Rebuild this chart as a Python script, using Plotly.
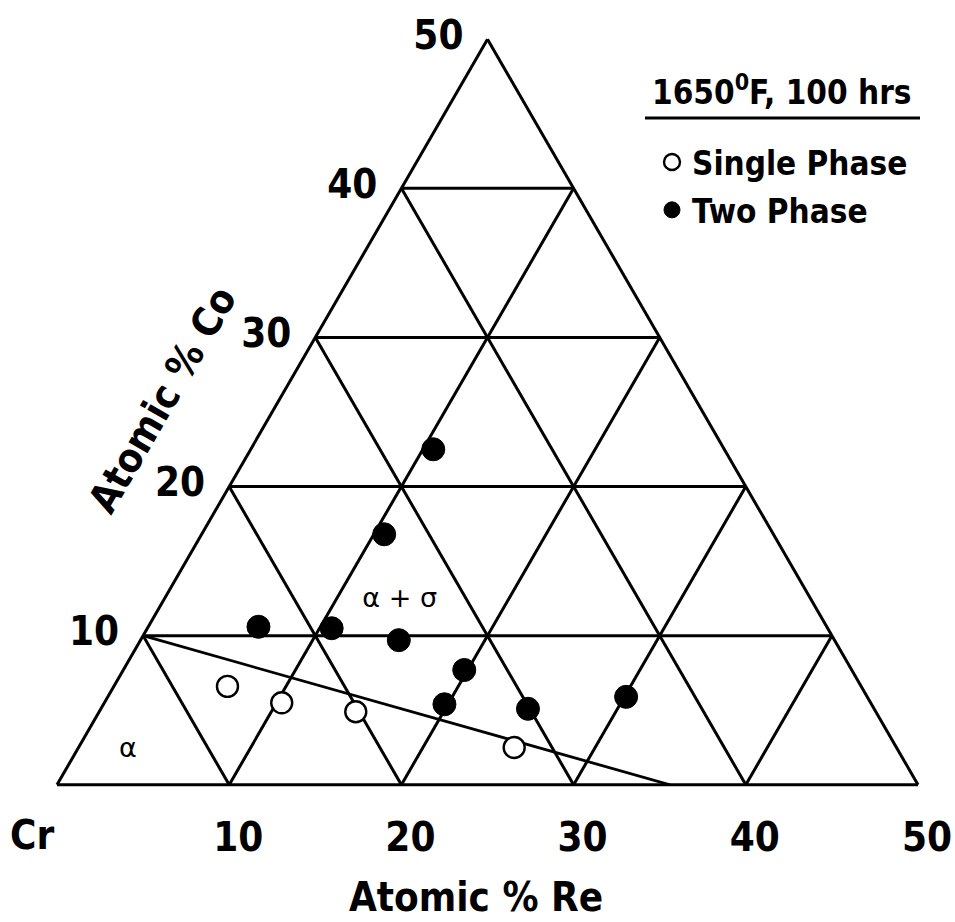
import plotly.graph_objects as go

# ---------------- data (atomic %) ----------------
two_phase_re = [10.6, 10.6, 6.4, 10.7, 15.0, 19.8, 19.8, 24.8, 30.1]
two_phase_co = [22.5, 16.8, 10.6, 10.5, 9.7, 7.7, 5.4, 5.1, 5.9]

single_phase_re = [6.6, 10.3, 14.9, 25.3]
single_phase_co = [6.6, 5.5, 4.9, 2.5]

boundary_re = [0.0, 35.6]
boundary_co = [10.0, 0.0]

co_ticks = [10, 20, 30, 40, 50]
re_ticks = [10, 20, 30, 40, 50]
re_grid = [10, 20, 30, 40]

region_labels = ["α + σ", "α"]
region_re = [13.7, 2.95]
region_co = [12.4, 2.35]

TOTAL = 100

def cr_of(re, co):
    return [TOTAL - r - c for r, c in zip(re, co)]

FONT = "DejaVu Sans Condensed, DejaVu Sans, sans-serif"

fig = go.Figure()

fig.add_trace(go.Scatterternary(
    a=boundary_co, b=cr_of(boundary_re, boundary_co), c=boundary_re,
    mode="lines", line=dict(color="black", width=2.8),
    showlegend=False, hoverinfo="skip"))

fig.add_trace(go.Scatterternary(
    a=region_co, b=cr_of(region_re, region_co), c=region_re,
    mode="text", text=region_labels,
    textfont=dict(family="DejaVu Sans, sans-serif", size=27, color="black"),
    showlegend=False, hoverinfo="skip"))

fig.add_trace(go.Scatterternary(
    a=single_phase_co, b=cr_of(single_phase_re, single_phase_co), c=single_phase_re,
    mode="markers", name="Single Phase", legendgroup="g1",
    marker=dict(symbol="circle", size=21, color="white",
                line=dict(color="black", width=2.4))))

fig.add_trace(go.Scatterternary(
    a=two_phase_co, b=cr_of(two_phase_re, two_phase_co), c=two_phase_re,
    mode="markers", name="Two Phase", legendgroup="g2",
    marker=dict(symbol="circle", size=23, color="black",
                line=dict(color="black", width=1))))

axis_common = dict(
    linecolor="black", linewidth=3,
    gridcolor="black", gridwidth=2.6,
    ticks="outside", ticklen=18, tickcolor="rgba(0,0,0,0)",
    tickfont=dict(family=FONT, size=40, color="black", weight="bold"),
    tickmode="array",
)

fig.update_layout(
    width=955, height=922,
    margin=dict(l=0, r=0, t=0, b=0),
    paper_bgcolor="white",
    font=dict(family=FONT, color="black"),
    ternary=dict(
        sum=TOTAL,
        bgcolor="white",
        domain=dict(x=[57 / 955, 918 / 955], y=[137 / 922, 883 / 922]),
        aaxis=dict(axis_common, min=0, tickvals=co_ticks,
                   ticktext=[str(v) for v in co_ticks], title=dict(text="")),
        baxis=dict(axis_common, min=TOTAL - re_ticks[-1],
                   tickvals=[TOTAL - v for v in re_ticks],
                   ticktext=[str(v) for v in re_ticks],
                   title=dict(text="")),
        caxis=dict(axis_common, min=0, tickvals=re_grid, showticklabels=False,
                   title=dict(text="")),
    ),
    legend=dict(
        x=652 / 955, y=1 - 134 / 922, xanchor="left", yanchor="top",
        font=dict(family=FONT, size=33, color="black", weight="bold"),
        traceorder="grouped", tracegroupgap=2,
        bgcolor="rgba(0,0,0,0)",
    ),
    annotations=[
        dict(text="1650<sup>0</sup>F, 100 hrs", xref="paper", yref="paper",
             x=650 / 955, y=1 - 90 / 922, xanchor="left", yanchor="middle",
             showarrow=False,
             font=dict(family=FONT, size=33, weight="bold")),
        dict(text="Cr", xref="paper", yref="paper",
             x=32 / 955, y=1 - 835 / 922, xanchor="center", yanchor="middle",
             showarrow=False,
             font=dict(family=FONT, size=40, weight="bold")),
        dict(text="Atomic % Re", xref="paper", yref="paper",
             x=476 / 955, y=1 - 897 / 922, xanchor="center", yanchor="middle",
             showarrow=False,
             font=dict(family=FONT, size=40, weight="bold")),
        dict(text="Atomic % Co", xref="paper", yref="paper",
             x=162 / 955, y=1 - 400 / 922, xanchor="center", yanchor="middle",
             showarrow=False, textangle=-60,
             font=dict(family=FONT, size=40, weight="bold")),
    ],
    shapes=[
        dict(type="line", xref="paper", yref="paper",
             x0=645 / 955, x1=920 / 955, y0=1 - 118 / 922, y1=1 - 118 / 922,
             line=dict(color="black", width=2.8)),
    ],
)

fig.write_html("out.html")
